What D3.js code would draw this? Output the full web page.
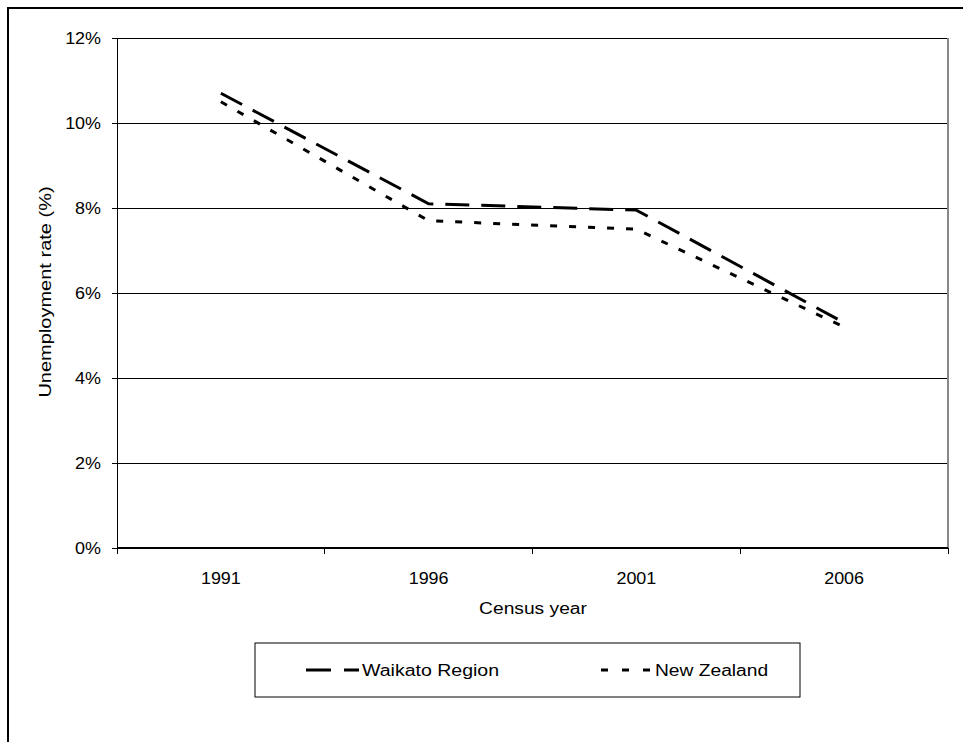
<!DOCTYPE html>
<html><head><meta charset="utf-8">
<script src="https://cdn.jsdelivr.net/npm/d3@7"></script>
<style>body{margin:0;background:#fff;} text{font-family:"Liberation Sans",Arial,sans-serif;}</style>
</head><body>
<svg id="c" width="963" height="742"></svg>
<script>
const years = ["1991","1996","2001","2006"];
const waikato = [10.7, 8.1, 7.95, 5.3];
const newZealand = [10.5, 7.7, 7.5, 5.2];
const yTicks = [0, 2, 4, 6, 8, 10, 12];
const seriesNames = ["Waikato Region", "New Zealand"];

const svg = d3.select("#c");
const L = 117, R = 948, T = 38, B = 548;
const FS = 16;
const x = d3.scaleBand().domain(years).range([L, R]).padding(0);
const y = d3.scaleLinear().domain([0, 12]).range([B, T]);

// stretch text along its direction to mimic the wide glyphs of the original
function stretch(sel, f) {
  sel.each(function () {
    const len = this.getComputedTextLength();
    d3.select(this).attr("textLength", len * f).attr("lengthAdjust", "spacingAndGlyphs");
  });
}

// outer frame
svg.append("rect").attr("x", 8).attr("y", 8).attr("width", 1000).attr("height", 800)
  .attr("fill", "none").attr("stroke", "#000").attr("stroke-width", 2);

// gridlines
svg.append("g").selectAll("line").data(yTicks.filter(d => d > 0)).join("line")
  .attr("x1", L).attr("x2", R).attr("y1", d => y(d)).attr("y2", d => y(d))
  .attr("stroke", "#000").attr("stroke-width", 1).attr("shape-rendering", "crispEdges");

// plot area right border
svg.append("line").attr("x1", R).attr("x2", R).attr("y1", T).attr("y2", B)
  .attr("stroke", "#888").attr("stroke-width", 1.5).attr("shape-rendering", "crispEdges");

// y axis
const yAxis = d3.axisLeft(y).tickValues(yTicks).tickFormat(d => d + "%").tickSizeOuter(0).tickSize(5).tickPadding(11);
const gy = svg.append("g").attr("transform", `translate(${L},0)`).call(yAxis);
gy.selectAll("text").attr("font-size", FS).attr("fill", "#000").attr("font-family", "Liberation Sans, Arial, sans-serif");
gy.selectAll("line,path").attr("stroke", "#000").attr("shape-rendering", "crispEdges");
stretch(gy.selectAll("text"), 1.12);

// x axis with ticks at band boundaries
const gx = svg.append("g").attr("transform", `translate(0,${B})`);
gx.append("line").attr("x1", L).attr("x2", R).attr("y1", 0).attr("y2", 0).attr("stroke", "#000").attr("stroke-width", 1.5).attr("shape-rendering", "crispEdges");
const bounds = years.map(d => x(d)).concat([x(years[years.length - 1]) + x.bandwidth()]);
gx.selectAll("line.tk").data(bounds).join("line").attr("class", "tk")
  .attr("x1", d => d).attr("x2", d => d).attr("y1", 0).attr("y2", 6).attr("stroke", "#000").attr("shape-rendering", "crispEdges");
const xt = gx.selectAll("text").data(years).join("text")
  .attr("x", d => x(d) + x.bandwidth() / 2).attr("y", 36).attr("text-anchor", "middle")
  .attr("font-size", FS).text(d => d);
stretch(xt, 1.12);

// axis titles
const xTitle = svg.append("text").attr("x", 533).attr("y", 614).attr("text-anchor", "middle").attr("font-size", FS).text("Census year");
const yTitle = svg.append("text").attr("transform", "translate(51,292) rotate(-90)").attr("text-anchor", "middle").attr("font-size", FS).text("Unemployment rate (%)");
stretch(xTitle, 1.2);
stretch(yTitle, 1.25);

// lines
const line = d3.line().x((d, i) => x(years[i]) + x.bandwidth() / 2).y(d => y(d));
svg.append("path").datum(waikato).attr("d", line).attr("fill", "none").attr("stroke", "#000")
  .attr("stroke-width", 3).attr("stroke-dasharray", "24,12");
svg.append("path").datum(newZealand).attr("d", line).attr("fill", "none").attr("stroke", "#000")
  .attr("stroke-width", 3).attr("stroke-dasharray", "7,12");

// legend
const lg = svg.append("g");
lg.append("rect").attr("x", 255).attr("y", 643).attr("width", 545).attr("height", 54)
  .attr("fill", "#fff").attr("stroke", "#000").attr("stroke-width", 1);
lg.append("line").attr("x1", 306).attr("x2", 359).attr("y1", 670).attr("y2", 670)
  .attr("stroke", "#000").attr("stroke-width", 3).attr("stroke-dasharray", "25,13");
const t1 = lg.append("text").attr("x", 362).attr("y", 676).attr("font-size", FS).text(seriesNames[0]);
lg.append("line").attr("x1", 601).attr("x2", 653).attr("y1", 670).attr("y2", 670)
  .attr("stroke", "#000").attr("stroke-width", 3).attr("stroke-dasharray", "7,14");
const t2 = lg.append("text").attr("x", 655).attr("y", 676).attr("font-size", FS).text(seriesNames[1]);
stretch(t1, 1.22);
stretch(t2, 1.2);
</script>
</body></html>
